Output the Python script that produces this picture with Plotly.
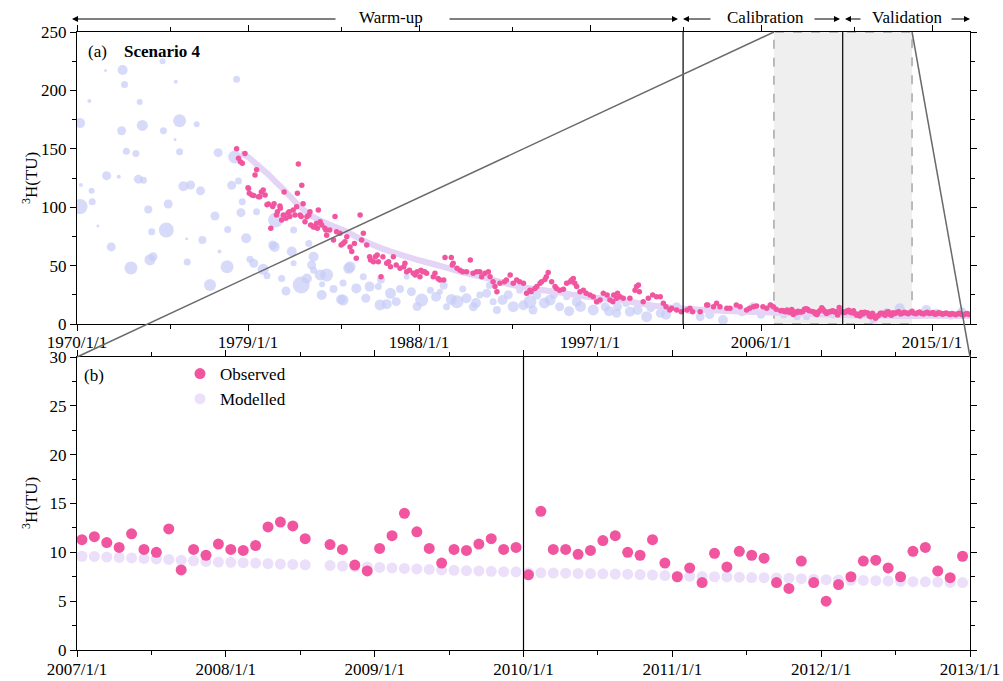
import plotly.graph_objects as go

FONT = "Liberation Serif"

# ---------------- data ----------------
# Panel (a): observed 3H (TU) before the zoom window, decimal years
obs_a_years = [
    1978.40, 1978.50, 1978.60, 1978.70, 1978.84, 1979.00, 1979.03, 1979.07, 1979.20, 1979.30,
    1979.37, 1979.45, 1979.55, 1979.62, 1979.70, 1979.80, 1979.90, 1980.00, 1980.07, 1980.20,
    1980.30, 1980.37, 1980.50, 1980.55, 1980.68, 1980.70, 1980.77, 1980.86, 1980.90, 1981.00,
    1981.10, 1981.17, 1981.20, 1981.38, 1981.47, 1981.56, 1981.60, 1981.65, 1981.74, 1981.80,
    1981.83, 1981.90, 1982.00, 1982.10, 1982.20, 1982.26, 1982.30, 1982.44, 1982.50, 1982.60,
    1982.65, 1982.70, 1982.80, 1982.88, 1983.05, 1983.10, 1983.14, 1983.30, 1983.50, 1983.58,
    1983.66, 1983.84, 1983.90, 1984.00, 1984.10, 1984.20, 1984.37, 1984.46, 1984.60, 1984.70,
    1984.90, 1984.98, 1985.07, 1985.25, 1985.40, 1985.45, 1985.60, 1985.70, 1985.80, 1985.86,
    1986.00, 1986.10, 1986.30, 1986.40, 1986.50, 1986.65, 1986.80, 1987.00, 1987.20, 1987.26,
    1987.35, 1987.50, 1987.70, 1987.80, 1987.90, 1988.05, 1988.10, 1988.20, 1988.30, 1988.40,
    1988.75, 1988.84, 1989.00, 1989.10, 1989.30, 1989.37, 1989.70, 1989.75, 1989.80, 1990.00,
    1990.16, 1990.30, 1990.50, 1990.70, 1990.85, 1991.03, 1991.20, 1991.30, 1991.47, 1991.65,
    1991.74, 1991.90, 1992.00, 1992.10, 1992.26, 1992.50, 1992.60, 1992.80, 1992.96, 1993.14,
    1993.30, 1993.50, 1993.66, 1993.84, 1993.90, 1994.10, 1994.20, 1994.37, 1994.45, 1994.63,
    1994.70, 1994.80, 1994.98, 1995.16, 1995.24, 1995.40, 1995.60, 1995.77, 1995.95, 1996.03,
    1996.12, 1996.20, 1996.30, 1996.47, 1996.65, 1996.80, 1997.00, 1997.17, 1997.35, 1997.53,
    1997.70, 1997.90, 1998.05, 1998.20, 1998.25, 1998.40, 1998.45, 1998.58, 1998.75, 1999.10,
    1999.37, 1999.45, 1999.55, 1999.60, 1999.80, 2000.07, 2000.30, 2000.50, 2000.70, 2000.86,
    2001.00, 2001.20, 2001.30, 2001.56, 2001.80, 2002.10, 2002.26, 2002.40, 2002.80, 2003.14,
    2003.20, 2003.50, 2003.66, 2003.84, 2004.20, 2004.37, 2004.70, 2004.90, 2005.24, 2005.40,
    2005.60, 2005.77, 2006.10, 2006.30, 2006.50, 2006.65, 2006.80,
]
obs_a_tu = [
    150, 142, 139, 137.6, 146, 116.7, 116, 112, 110.4, 110,
    127.6, 132, 109, 109, 113, 114.7, 110.4, 102, 102.7, 82,
    100.5, 103, 93.3, 96, 101, 99, 89, 93.3, 113, 90.5,
    94.8, 96, 92, 97.6, 93.3, 100.4, 112, 137, 93.3, 92,
    118.7, 103, 87.6, 91.9, 93.3, 96, 84.7, 83, 83.3, 86,
    82, 97.6, 87.6, 84.7, 82, 80.5, 76, 80.5, 72, 92,
    79, 77.6, 67.6, 69, 70.5, 74.7, 66, 62, 69, 56.2,
    93.3, 72, 77.6, 67.6, 57.6, 54.8, 53.3, 57.6, 59, 53.3,
    40.5, 57.6, 52, 53.3, 49, 57.6, 50.5, 47.7, 49, 52,
    44.8, 46, 43.4, 42, 44.8, 40.5, 46, 44.8, 44.8, 43.4,
    40.5, 43.4, 39, 37.7, 37.7, 57, 57, 50.5, 52, 47.7,
    46, 44.8, 44.8, 54.8, 43.4, 44.8, 44.8, 40.5, 43.4, 44.8,
    40.5, 36.2, 32, 27.7, 34.8, 36.2, 37.7, 42, 34.8, 37.7,
    36.2, 34.8, 26.3, 29, 27.7, 30.5, 32, 34.8, 36.2, 38.2,
    40.5, 44, 36.2, 32, 30.5, 29, 29.7, 34.8, 36.2, 37.7,
    39, 34.8, 32, 27.7, 29, 26.3, 24.8, 23.4, 19.1, 20.5,
    26.3, 24.8, 20.5, 19.1, 24.8, 22, 26.3, 23.4, 22, 22,
    29, 32, 33.4, 27.7, 19.1, 22, 24.8, 23.4, 23.4, 17.7,
    14.8, 12, 13.4, 12, 10.5, 12, 13.4, 10.5, 10.5, 16.3,
    16.3, 14.8, 17.7, 14.8, 13.4, 13.4, 16.3, 14.8, 12, 13.4,
    14.8, 15.4, 14.8, 13.4, 16.3, 14.8, 12.6,
]

# Panel (a): observed 3H after the zoom window
obs_late_years = [
    2013.05, 2013.15, 2013.25, 2013.35, 2013.45, 2013.55, 2013.65, 2013.75, 2013.85, 2013.95,
    2014.05, 2014.15, 2014.25, 2014.35, 2014.45, 2014.55, 2014.65, 2014.75, 2014.85, 2014.95,
    2015.05, 2015.15, 2015.25, 2015.35, 2015.45, 2015.55, 2015.65, 2015.75, 2015.85, 2015.95,
    2016.05, 2016.15, 2016.25, 2016.35, 2016.45, 2016.55, 2016.65, 2016.75, 2016.85, 2016.95,
]
obs_late_tu = [
    9.0, 9.8, 10.4, 8.6, 9.2, 10.1, 9.5, 8.8, 9.9, 11.0,
    9.3, 8.7, 9.6, 10.2, 9.0, 8.5, 9.4, 10.0, 8.9, 9.2,
    9.8, 8.4, 8.8, 9.6, 9.1, 8.3, 8.9, 9.5, 8.7, 8.2,
    9.0, 8.6, 8.0, 8.8, 9.3, 8.1, 7.8, 8.5, 8.9, 8.2,
]

# Panel (a): input (precipitation) 3H, with weight shown as marker size
inp_years = [
    1970.16, 1970.16, 1970.20, 1970.65, 1970.77, 1970.80, 1971.10, 1971.50, 1971.56, 1971.80,
    1972.20, 1972.35, 1972.40, 1972.50, 1972.60, 1972.84, 1973.10, 1973.23, 1973.30, 1973.44,
    1973.50, 1973.75, 1973.84, 1973.93, 1974.00, 1974.50, 1974.55, 1974.70, 1974.80, 1975.16,
    1975.20, 1975.40, 1975.40, 1975.60, 1975.77, 1975.80, 1975.98, 1976.30, 1976.50, 1976.60,
    1977.00, 1977.26, 1977.43, 1977.50, 1977.90, 1977.93, 1978.14, 1978.30, 1978.40, 1978.50,
    1978.63, 1978.70, 1978.90, 1979.10, 1979.30, 1979.45, 1979.80, 1980.00, 1980.30, 1980.40,
    1980.45, 1980.77, 1981.00, 1981.30, 1981.40, 1981.40, 1981.80, 1982.10, 1982.20, 1982.35,
    1982.45, 1982.45, 1982.80, 1982.88, 1982.90, 1983.14, 1983.50, 1983.90, 1984.00, 1984.00,
    1984.30, 1984.37, 1984.70, 1985.07, 1985.20, 1985.40, 1985.86, 1985.95, 1986.00, 1986.30,
    1986.50, 1986.80, 1987.00, 1987.35, 1987.60, 1987.90, 1988.14, 1988.60, 1988.90, 1989.10,
    1989.30, 1989.45, 1989.70, 1990.00, 1990.30, 1990.50, 1990.86, 1991.00, 1991.20, 1991.56,
    1991.70, 1991.90, 1992.10, 1992.40, 1992.70, 1992.96, 1993.30, 1993.50, 1993.84, 1994.00,
    1994.20, 1994.55, 1994.60, 1994.90, 1995.10, 1995.40, 1995.77, 1995.90, 1996.30, 1996.50,
    1996.80, 1997.17, 1997.40, 1997.80, 1998.00, 1998.40, 1998.45, 1998.90, 1999.10, 1999.50,
    1999.98, 2000.20, 2000.70, 2001.00, 2001.56, 2002.20, 2002.80, 2003.30, 2004.00, 2004.70,
    2005.00, 2005.60, 2006.00, 2006.50, 2007.20, 2007.90, 2008.40, 2008.90, 2009.80, 2010.50,
    2011.90, 2012.60, 2013.30, 2013.80, 2014.70, 2015.24, 2016.00, 2016.56,
]
inp_tu = [
    100.5, 172, 119, 191, 114, 104.7, 84, 217, 127, 66,
    126, 165.5, 217.5, 205, 148, 48, 146, 124, 190, 170,
    123, 98, 55, 79, 57.6, 225, 165.5, 80.5, 102.7, 158,
    207.5, 147.5, 174, 118, 73, 53, 119, 171, 114, 72,
    33.4, 92.5, 146.7, 62, 49, 81, 118.7, 143, 209.5, 122.4,
    95.3, 104.7, 73.4, 55.4, 52, 96, 46.8, 41.4, 67.6, 66,
    89, 39, 28.3, 62, 80.5, 52, 33.4, 39, 69, 50.5,
    57.6, 46, 42, 24.8, 34, 42, 30, 21, 20.5, 35,
    47.7, 49, 30.5, 40.5, 22, 32, 32, 16.3, 38, 17,
    26.3, 19.1, 30, 40.5, 27.7, 15, 20.5, 29, 23.4, 27.7,
    33, 14.8, 21, 19.1, 30, 22, 14.8, 18, 24.8, 26.3,
    33, 19, 12, 20.5, 25, 14.8, 29, 16, 19, 12,
    24.8, 29, 18, 20.5, 25, 14.8, 23.4, 11, 19, 15,
    24.8, 12, 20, 14.8, 11, 9.2, 14.8, 18, 10.5, 12,
    6.3, 14, 9.2, 8, 14.8, 12, 6.3, 8, 3.4, 13.4,
    10, 14.8, 8, 14.8, 7.7, 6.3, 6.3, 9, 7.7, 10,
    3.4, 9.7, 13.4, 8, 12, 9.2, 7, 10.5,
]
inp_size = [
    15, 10, 4, 4, 6, 7, 3, 3, 9, 9,
    4, 9, 10, 7, 7, 13, 7, 9, 6, 11,
    7, 8, 11, 7, 9, 6, 7, 15, 9, 3,
    4, 7, 13, 10, 3, 7, 9, 6, 9, 8,
    12, 9, 9, 4, 13, 7, 9, 13, 7, 7,
    9, 7, 10, 7, 9, 7, 11, 7, 9, 10,
    15, 7, 9, 10, 7, 6, 17, 10, 7, 9,
    10, 7, 11, 10, 6, 13, 8, 10, 11, 7,
    11, 11, 10, 7, 9, 10, 7, 11, 8, 10,
    11, 9, 8, 6, 9, 9, 13, 7, 10, 6,
    8, 7, 11, 13, 7, 10, 9, 10, 7, 9,
    7, 7, 8, 10, 9, 11, 7, 10, 13, 9,
    9, 6, 11, 11, 8, 9, 7, 10, 10, 11,
    6, 11, 8, 9, 10, 9, 9, 8, 10, 10,
    11, 9, 9, 10, 9, 8, 9, 9, 10, 7,
    8, 9, 8, 9, 7, 7, 7, 8, 7, 8,
    7, 9, 10, 9, 10, 9, 8, 9,
]

# Panel (a): modelled 3H curve
mod_a_years = [1978.6, 1979.0, 1979.5, 1980.0, 1980.5, 1981.0, 1981.7, 1982.4, 1983.3, 1984.2,
               1985.0, 1986.0, 1986.8, 1987.7, 1988.6, 1989.9, 1991.6, 1993.3, 1995.1, 1996.8,
               1998.6, 2000.0, 2001.6, 2003.3, 2005.1, 2007.0, 2010.0, 2013.0, 2015.0, 2017.0]
mod_a_tu = [146, 143, 136, 129, 121, 113, 101, 92, 85, 79,
            72, 65, 60.5, 56, 52, 46, 39, 32, 27.7, 23.4,
            20.5, 16.5, 13.4, 11.8, 10.5, 9.6, 7.9, 6.9, 7.0, 6.8]

# Panel (b): monthly samples 2007-2012 (month index since 2007/1; 2008/8 missing)
obs_b_month = list(range(0, 19)) + list(range(20, 72))
obs_b_tu = [
    11.3, 11.6, 11.0, 10.5, 11.9, 10.3, 10.0, 12.4, 8.2, 10.3,
    9.7, 10.85, 10.3, 10.2, 10.7, 12.6, 13.1, 12.7, 11.4,
    10.8, 10.3, 8.7, 8.1, 10.4, 11.7, 14.0, 12.1, 10.4, 8.9,
    10.3, 10.2, 10.85, 11.4, 10.3, 10.5, 7.7, 14.2, 10.3, 10.3,
    9.8, 10.2, 11.2, 11.7, 10.0, 9.7, 11.3, 8.9, 7.5, 8.4,
    6.9, 9.9, 8.5, 10.1, 9.7, 9.4, 6.9, 6.3, 9.1, 6.9,
    5.0, 6.7, 7.5, 9.1, 9.2, 8.4, 7.5, 10.1, 10.5, 8.1,
    7.4, 9.6,
]
mod_b_tu = [
    9.6, 9.58, 9.52, 9.48, 9.43, 9.38, 9.33, 9.27, 9.2, 9.13,
    9.07, 9.0, 8.98, 8.94, 8.9, 8.85, 8.8, 8.76, 8.72,
    8.66, 8.6, 8.55, 8.5, 8.45, 8.4, 8.35, 8.3, 8.25, 8.2,
    8.16, 8.12, 8.1, 8.06, 8.02, 8.0, 7.92, 7.9, 7.88, 7.86,
    7.84, 7.82, 7.8, 7.78, 7.76, 7.72, 7.68, 7.62, 7.58, 7.55,
    7.52, 7.5, 7.48, 7.46, 7.42, 7.4, 7.38, 7.35, 7.3, 7.25,
    7.2, 7.17, 7.14, 7.12, 7.1, 7.07, 7.04, 7.0, 6.98, 6.95,
    6.92, 6.9,
]

# Tick labels
top_tickvals = [1970, 1979, 1988, 1997, 2006, 2015]
top_ticktext = ["1970/1/1", "1979/1/1", "1988/1/1", "1997/1/1", "2006/1/1", "2015/1/1"]
top_minor = [1974.93, 1983.93, 1992.93, 2001.93, 2010.93]
bot_tickvals = [2007, 2008, 2009, 2010, 2011, 2012, 2013]
bot_ticktext = ["2007/1/1", "2008/1/1", "2009/1/1", "2010/1/1", "2011/1/1", "2012/1/1", "2013/1/1"]

# Period boundaries
top_range = [1970, 2017]
bot_range = [2007, 2013]
calib_start = 2001.9
valid_start_top = 2010.3
valid_start_bot = 2010.0
box_x0, box_x1 = 2006.68, 2013.95

# ---------------- derived ----------------
obs_b_years = [2007 + (m + 0.4) / 12 for m in obs_b_month]
obs_top_years = obs_a_years + obs_b_years + obs_late_years
obs_top_tu = obs_a_tu + obs_b_tu + obs_late_tu

PINK = "#f2559f"
BLUE = "#c6ccf6"
LAV = "#e4d4f5"
LAV_B = "#ebdff9"

fig = go.Figure()

fig.add_trace(go.Scatter(x=inp_years, y=inp_tu, mode="markers",
                         marker=dict(size=inp_size, color=BLUE, line=dict(width=0)),
                         showlegend=False, xaxis="x", yaxis="y"))
fig.add_trace(go.Scatter(x=mod_a_years, y=mod_a_tu, mode="lines",
                         line=dict(color=LAV, width=6, shape="spline"),
                         showlegend=False, xaxis="x", yaxis="y"))
fig.add_trace(go.Scatter(x=obs_top_years, y=obs_top_tu, mode="markers",
                         marker=dict(size=5.5, color=PINK, line=dict(width=0)),
                         showlegend=False, xaxis="x", yaxis="y"))
fig.add_trace(go.Scatter(x=obs_b_years, y=mod_b_tu, mode="markers", name="Modelled",
                         marker=dict(size=11, color=LAV_B, line=dict(width=0)),
                         legendrank=2, xaxis="x2", yaxis="y2"))
fig.add_trace(go.Scatter(x=obs_b_years, y=obs_b_tu, mode="markers", name="Observed",
                         marker=dict(size=11, color=PINK, line=dict(width=0)),
                         legendrank=1, xaxis="x2", yaxis="y2"))

axis_common = dict(showline=True, linecolor="black", linewidth=1.2, mirror="ticks",
                   ticks="outside", ticklen=6, tickwidth=1.2, tickcolor="black",
                   showgrid=False, zeroline=False, automargin=False,
                   tickfont=dict(family=FONT, size=17, color="black"))
minor_common = dict(ticks="outside", ticklen=3.5, tickwidth=1.2, tickcolor="black", showgrid=False)

TOP_LO = (650 - 324) / 618
BOT_HI = (650 - 357) / 618

fig.update_layout(
    width=1003, height=681, autosize=False,
    margin=dict(l=77, r=33, t=32, b=31),
    paper_bgcolor="white", plot_bgcolor="white",
    font=dict(family=FONT, size=17, color="black"),
    xaxis=dict(axis_common, domain=[0, 1], anchor="y", range=top_range,
               tickmode="array", tickvals=top_tickvals, ticktext=top_ticktext,
               ticklabelstandoff=-4,
               minor=dict(minor_common, tickvals=top_minor)),
    yaxis=dict(axis_common, domain=[TOP_LO, 1], anchor="x", range=[0, 250],
               tick0=0, dtick=50, minor=dict(minor_common, dtick=25)),
    xaxis2=dict(axis_common, domain=[0, 1], anchor="y2", range=bot_range,
                tickmode="array", tickvals=bot_tickvals, ticktext=bot_ticktext,
                ticklabelstandoff=-3,
                minor=dict(minor_common, tick0=2007, dtick=0.5)),
    yaxis2=dict(axis_common, domain=[0, BOT_HI], anchor="x2", range=[0, 30],
                tick0=0, dtick=5, minor=dict(minor_common, dtick=2.5)),
    legend=dict(x=(180 - 77) / 893, y=(650 - 356) / 618, xanchor="left", yanchor="top",
                bgcolor="rgba(0,0,0,0)", font=dict(family=FONT, size=17),
                itemsizing="trace", tracegroupgap=0),
)

def px_x(px):
    return (px - 77) / 893

def px_y(py):
    return (650 - py) / 618

def top_paper_x(yr):
    return (yr - top_range[0]) / (top_range[1] - top_range[0])

shapes = [
    # zoom window (background)
    dict(type="rect", xref="x", yref="y", x0=box_x0, x1=box_x1, y0=0, y1=250,
         fillcolor="#efefef", line=dict(color="#a8a8a8", width=1.5, dash="dash"), layer="below"),
    # period boundaries
    dict(type="line", xref="x", yref="y domain", x0=calib_start, x1=calib_start, y0=0, y1=1,
         line=dict(color="black", width=1.2)),
    dict(type="line", xref="x", yref="y domain", x0=valid_start_top, x1=valid_start_top, y0=0, y1=1,
         line=dict(color="black", width=1.2)),
    dict(type="line", xref="x2", yref="y2 domain", x0=valid_start_bot, x1=valid_start_bot, y0=0, y1=1,
         line=dict(color="black", width=1.2)),
    # zoom connector lines
    dict(type="line", xref="paper", yref="paper", x0=0, y0=BOT_HI,
         x1=top_paper_x(box_x0), y1=1, line=dict(color="#6a6a6a", width=1.5)),
    dict(type="line", xref="paper", yref="paper", x0=top_paper_x(box_x1), y0=1,
         x1=1, y1=BOT_HI, line=dict(color="#6a6a6a", width=1.5)),
]
fig.update_layout(shapes=shapes)

ann = []
HY = px_y(19)
# header arrows: (head px, tail px)
for head, tail in [(72, 337), (678, 448), (683, 712), (840, 813), (845, 862), (970, 950)]:
    ann.append(dict(xref="paper", yref="paper", x=px_x(head), y=HY, ax=tail - head, ay=0,
                    text="", showarrow=True, arrowhead=2, arrowsize=1, arrowwidth=1.2,
                    arrowcolor="black", standoff=0, startstandoff=0))
for label, cx in [("Warm-up", 391), ("Calibration", 765), ("Validation", 907)]:
    ann.append(dict(xref="paper", yref="paper", x=px_x(cx), y=px_y(17), text=label,
                    showarrow=False, xanchor="center", yanchor="middle",
                    font=dict(family=FONT, size=17)))
ann.append(dict(xref="paper", yref="paper", x=px_x(86), y=px_y(52), text="(a)",
                showarrow=False, xanchor="left", yanchor="middle", font=dict(family=FONT, size=17)))
ann.append(dict(xref="paper", yref="paper", x=px_x(122), y=px_y(52), text="<b>Scenario 4</b>",
                showarrow=False, xanchor="left", yanchor="middle", font=dict(family=FONT, size=17)))
ann.append(dict(xref="paper", yref="paper", x=px_x(82), y=px_y(375), text="(b)",
                showarrow=False, xanchor="left", yanchor="middle", font=dict(family=FONT, size=17)))
for cy in [178, 503]:
    ann.append(dict(xref="paper", yref="paper", x=px_x(30), y=px_y(cy), text="<sup>3</sup>H(TU)",
                    showarrow=False, textangle=-90, xanchor="center", yanchor="middle",
                    font=dict(family=FONT, size=17)))
fig.update_layout(annotations=ann)

fig.write_html("out.html")
